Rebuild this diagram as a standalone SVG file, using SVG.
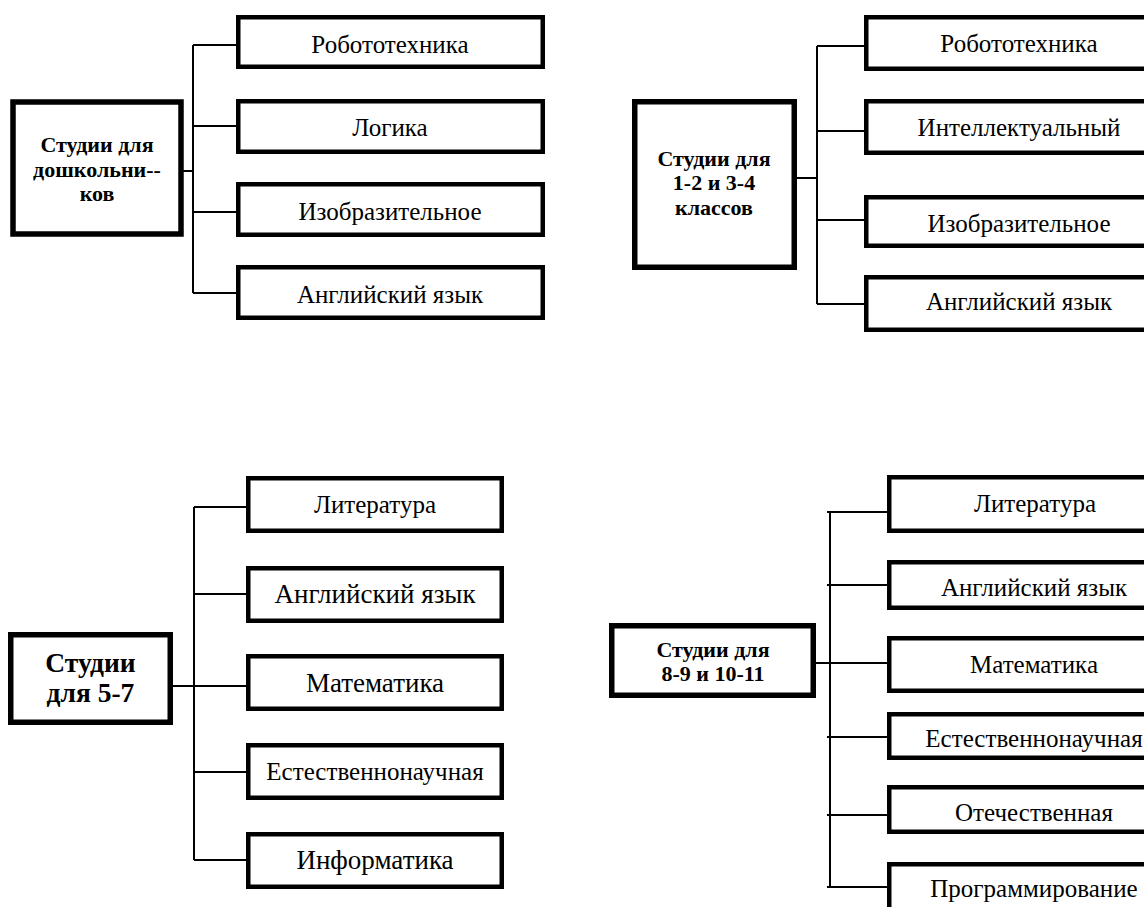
<svg xmlns="http://www.w3.org/2000/svg" width="1144" height="907" viewBox="0 0 1144 907">
<style>
.main{fill:#fff;stroke:#000;stroke-width:5.5}
.box{fill:#fff;stroke:#000;stroke-width:4.5}
.ln{stroke:#000;stroke-width:2;fill:none}
.t{font-family:"Liberation Serif","Times New Roman",serif;font-size:25px;fill:#000;text-anchor:middle}
.tb{font-family:"Liberation Serif","Times New Roman",serif;font-size:22px;font-weight:bold;fill:#000;text-anchor:middle}
.big{font-size:27px}
.bigb{font-size:27.5px}
</style>
<rect width="1144" height="907" fill="#fff"/>
<g id="connectors">
  <path class="ln" d="M173 171H193M193 45V293M193 45H237M193 126H237M193 212H237M193 293H237"/>
  <path class="ln" d="M797 178H817M817 46V304M817 46H865M817 131H865M817 220H865M817 304H865"/>
  <path class="ln" d="M173 686H247M194 507V860M194 507H247M194 594H247M194 772H247M194 860H247"/>
  <path class="ln" d="M816 663H888M830 512V887M827 512H888M827 585H888M827 737H888M827 815H888M827 887H888"/>
</g>
<g id="tl-main">
  <rect class="main" x="13" y="102" width="168" height="132"/>
  <text class="tb" x="97" y="152">Студии для</text>
  <text class="tb" x="97" y="177">дошкольни--</text>
  <text class="tb" x="97" y="201">ков</text>
</g>
<g id="tl-1"><rect class="box" x="238.25" y="17.25" width="304.5" height="49.5"/><text class="t" x="390" y="53">Робототехника</text></g>
<g id="tl-2"><rect class="box" x="238.25" y="101.25" width="304.5" height="50.5"/><text class="t" x="390" y="136">Логика</text></g>
<g id="tl-3"><rect class="box" x="238.25" y="184.25" width="304.5" height="50.5"/><text class="t" x="390" y="220">Изобразительное</text></g>
<g id="tl-4"><rect class="box" x="238.25" y="267.25" width="304.5" height="50.5"/><text class="t" x="390" y="303">Английский язык</text></g>

<g id="tr-main">
  <rect class="main" x="634.75" y="101.75" width="159.5" height="165.5"/>
  <text class="tb" x="714" y="166">Студии для</text>
  <text class="tb" x="714" y="190">1-2 и 3-4</text>
  <text class="tb" x="714" y="215">классов</text>
</g>
<g id="tr-1"><rect class="box" x="866.25" y="17.25" width="320" height="51.5"/><text class="t" x="1019" y="52">Робототехника</text></g>
<g id="tr-2"><rect class="box" x="866.25" y="101.25" width="320" height="51.5"/><text class="t" x="1019" y="136">Интеллектуальный</text></g>
<g id="tr-3"><rect class="box" x="866.25" y="197.25" width="320" height="48.5"/><text class="t" x="1019" y="232">Изобразительное</text></g>
<g id="tr-4"><rect class="box" x="866.25" y="277.25" width="320" height="52.5"/><text class="t" x="1019" y="310">Английский язык</text></g>

<g id="bl-main">
  <rect class="main" x="10.75" y="634.75" width="159.5" height="87.5"/>
  <text class="tb bigb" x="90.5" y="672">Студии</text>
  <text class="tb bigb" x="90.5" y="702">для 5-7</text>
</g>
<g id="bl-1"><rect class="box" x="248.25" y="478.25" width="253.5" height="52.5"/><text class="t" x="375" y="513">Литература</text></g>
<g id="bl-2"><rect class="box" x="248.25" y="568.25" width="253.5" height="52.5"/><text class="t big" x="375" y="603">Английский язык</text></g>
<g id="bl-3"><rect class="box" x="248.25" y="656.25" width="253.5" height="52.5"/><text class="t big" x="375" y="692">Математика</text></g>
<g id="bl-4"><rect class="box" x="248.25" y="745.25" width="253.5" height="52.5"/><text class="t" x="375" y="780">Естественнонаучная</text></g>
<g id="bl-5"><rect class="box" x="248.25" y="834.25" width="253.5" height="52.5"/><text class="t big" x="375" y="869">Информатика</text></g>

<g id="br-main">
  <rect class="main" x="611.75" y="625.75" width="201.5" height="69.5"/>
  <text class="tb" x="713" y="657">Студии для</text>
  <text class="tb" x="713" y="681">8-9 и 10-11</text>
</g>
<g id="br-1"><rect class="box" x="889.25" y="477.25" width="300" height="53.5"/><text class="t" x="1035" y="512">Литература</text></g>
<g id="br-2"><rect class="box" x="889.25" y="562.25" width="300" height="45.5"/><text class="t" x="1034" y="596">Английский язык</text></g>
<g id="br-3"><rect class="box" x="889.25" y="638.25" width="300" height="52.5"/><text class="t" x="1034" y="673">Математика</text></g>
<g id="br-4"><rect class="box" x="889.25" y="714.25" width="300" height="43.5"/><text class="t" x="1034" y="747">Естественнонаучная</text></g>
<g id="br-5"><rect class="box" x="889.25" y="787.25" width="300" height="44.5"/><text class="t" x="1034" y="821">Отечественная</text></g>
<g id="br-6"><rect class="box" x="889.25" y="864.25" width="300" height="60"/><text class="t" x="1034" y="897">Программирование</text></g>
</svg>
